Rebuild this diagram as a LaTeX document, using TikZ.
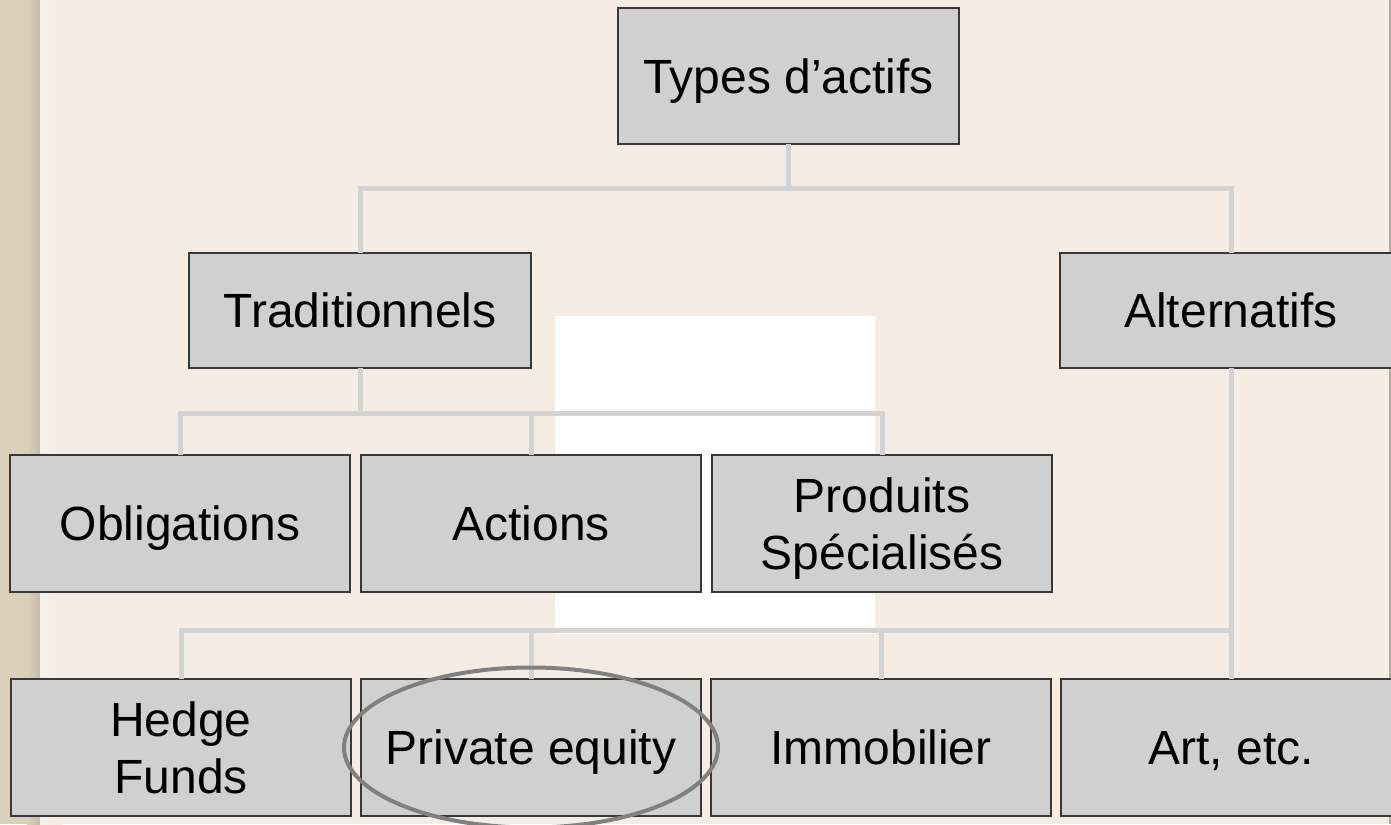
\documentclass[tikz,border=0pt]{standalone}
\usepackage{fontspec}
\setmainfont{Liberation Sans}
\usetikzlibrary{positioning}

\definecolor{paper}{HTML}{F5EDE3}
\definecolor{strip}{HTML}{DCD0BB}
\definecolor{stripdark}{HTML}{C8BBA4}
\definecolor{striplight}{HTML}{F7EFEA}
\definecolor{boxfill}{HTML}{D0D0D0}
\definecolor{boxline}{HTML}{383838}
\definecolor{linkgray}{HTML}{D3D3D3}
\definecolor{ringgray}{HTML}{808080}
\definecolor{edgegray}{HTML}{B5AB9B}

\tikzset{
  box/.style={draw=boxline,line width=1.5pt,fill=boxfill,
    minimum width=340pt,minimum height=137pt,inner sep=0pt,outer sep=0pt,
    align=center,text depth=0pt,font=\fontsize{48}{57}\selectfont},
  link/.style={draw=linkgray,line width=5pt}
}

\begin{document}
\begin{tikzpicture}[x=1pt,y=-1pt]

% page and background
\useasboundingbox (0,0) rectangle (1391,824);
\fill[paper] (0,0) rectangle (1391,824);
\fill[strip] (0,0) rectangle (27,824);
\shade[left color=strip,right color=stripdark] (27,0) rectangle (40,824);
\shade[left color=striplight,right color=paper] (40,0) rectangle (62,824);
\fill[edgegray] (1389,0) rectangle (1391,824);
\fill[white] (555,316) rectangle (875,634);

% tree
\node[box,minimum width=341pt,minimum height=136pt] (types) at (788.5,76) {Types d’actifs};
\node[box,minimum width=342pt,minimum height=115pt] (trad) at (360,310.5) {Traditionnels};
\node[box,minimum width=342pt,minimum height=115pt] (alt) at (1231,310.5) {Alternatifs};

\node[box] (oblig) at (180,523.5) {Obligations};
\node[box,right=11pt of oblig] (actions) {Actions};
\node[box,right=11pt of actions] (produits) {Produits\\Spécialisés};

\node[box] (hedge) at (181,747.5) {Hedge\\Funds};
\node[box,right=10pt of hedge] (private) {Private equity};
\node[box,right=10pt of private] (immo) {Immobilier};
\node[box,right=10pt of immo] (art) {Art, etc.};

% connectors
\draw[link] (types.south) -- ++(0,44) -| (trad.north);
\draw[link] (types.south) -- ++(0,44) -| (alt.north);

\draw[link] (trad.south) -- ++(0,45) -| (oblig.north);
\draw[link] (trad.south) -- ++(0,45) -| (actions.north);
\draw[link] (trad.south) -- ++(0,45) -| (produits.north);

\path (alt.south) ++(0,262) coordinate (altjoin);
\draw[link] (alt.south) -- (art.north);
\draw[link] (altjoin) -| (hedge.north);
\draw[link] (altjoin) -| (private.north);
\draw[link] (altjoin) -| (immo.north);

% highlight
\draw[ringgray,line width=4pt] (private.center) ellipse [x radius=187, y radius=80];
\end{tikzpicture}
\end{document}
